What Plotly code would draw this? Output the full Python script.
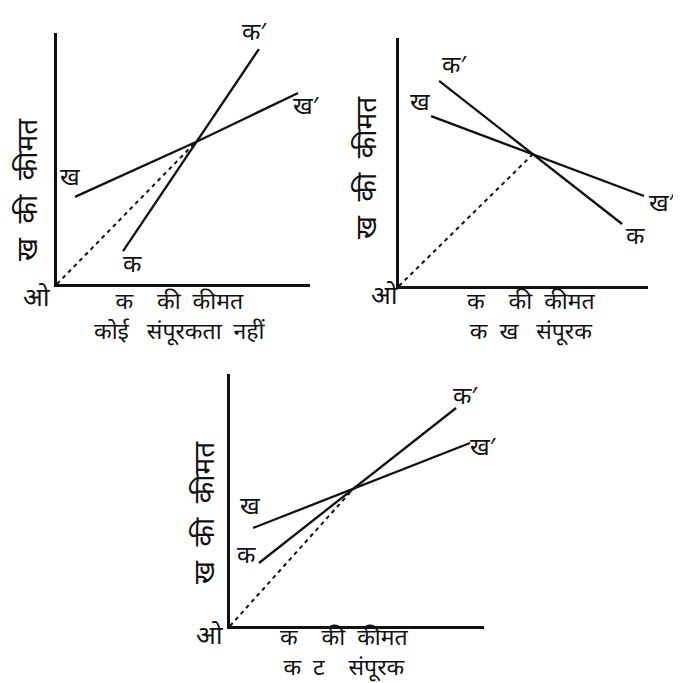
import plotly.graph_objects as go

W, H = 681, 683

# panel 1 - कोई संपूरकता नहीं (values in % of axis length)
P1_KHA_X = [7.1, 54.9, 95.3]
P1_KHA_Y = [34.7, 56.6, 76.1]
P1_KA_X = [26.1, 79.8]
P1_KA_Y = [13.1, 93.6]
P1_DASH_X = [0, 54.9]
P1_DASH_Y = [0, 56.6]

# panel 2 - क ख संपूरक
P2_KHA_X = [12.9, 98.4]
P2_KHA_Y = [68.5, 36.3]
P2_KA_X = [16.1, 89.6]
P2_KA_Y = [82.7, 25.0]
P2_DASH_X = [0, 53.8]
P2_DASH_Y = [0, 53.2]

# panel 3 - क ट संपूरक
P3_KHA_X = [9.1, 94.5]
P3_KHA_Y = [38.9, 72.6]
P3_KA_X = [11.4, 89.0]
P3_KA_Y = [25.0, 86.5]
P3_DASH_X = [0, 49.6]
P3_DASH_Y = [0, 55.6]

X_TITLE = "क    की  कीमत"
Y_TITLE = "ख  की  कीमत"
ORIGIN = "ओ"
SUBTITLES = ["कोई   संपूरकता  नहीं", "क  ख   संपूरक", "क  ट    संपूरक"]

FONT = "Noto Sans Devanagari, Lohit Devanagari, Mangal, Noto Sans, sans-serif"
INK = "#111111"


def px(x, y):
    return x / W, 1 - y / H


fig = go.Figure()

# axis boxes in pixels: (left, bottom, right, top)
boxes = [(49, 276, 302, 25), (391, 278, 640, 30), (222, 618, 476, 366)]
panels = [
    (P1_KHA_X, P1_KHA_Y, P1_KA_X, P1_KA_Y, P1_DASH_X, P1_DASH_Y),
    (P2_KHA_X, P2_KHA_Y, P2_KA_X, P2_KA_Y, P2_DASH_X, P2_DASH_Y),
    (P3_KHA_X, P3_KHA_Y, P3_KA_X, P3_KA_Y, P3_DASH_X, P3_DASH_Y),
]

# label offsets (xshift, yshift) for: kha start, ka start, kha end, ka end
offsets = [
    {"kha0": (-5, 18), "ka0": (9, -15), "kha1": (8, -15), "ka1": (-4, 15)},
    {"kha0": (-11, 12), "ka0": (15, 14), "kha1": (18, -9), "ka1": (13, -14)},
    {"kha0": (-3, 20), "ka0": (-12, 6), "kha1": (13, -6), "ka1": (9, 10)},
]

layout_axes = {}
for i, ((l, b, r, t), data, off) in enumerate(zip(boxes, panels, offsets)):
    n = "" if i == 0 else str(i + 1)
    xa, ya = "x" + n, "y" + n
    kha_x, kha_y, ka_x, ka_y, d_x, d_y = data

    fig.add_trace(go.Scatter(x=d_x, y=d_y, mode="lines", xaxis=xa, yaxis=ya,
                             line={"color": INK, "width": 2, "dash": "4px,4px"}))
    fig.add_trace(go.Scatter(x=kha_x, y=kha_y, mode="lines", xaxis=xa, yaxis=ya,
                             line={"color": INK, "width": 2.3}))
    fig.add_trace(go.Scatter(x=ka_x, y=ka_y, mode="lines", xaxis=xa, yaxis=ya,
                             line={"color": INK, "width": 2.3}))

    axis_common = {
        "range": [0, 100], "showgrid": False, "zeroline": False,
        "showticklabels": False, "ticks": "", "showline": True,
        "linecolor": INK, "linewidth": 2.5,
    }
    layout_axes["xaxis" + n] = {**axis_common, "domain": [l / W, r / W], "anchor": ya}
    layout_axes["yaxis" + n] = {**axis_common, "domain": [1 - b / H, 1 - t / H], "anchor": xa}

    if i == 1:
        names = ["ख", "क′", "ख′", "क"]
    else:
        names = ["ख", "क", "ख′", "क′"]
    labels = [
        (names[0], kha_x[0], kha_y[0], off["kha0"]),
        (names[1], ka_x[0], ka_y[0], off["ka0"]),
        (names[2], kha_x[-1], kha_y[-1], off["kha1"]),
        (names[3], ka_x[-1], ka_y[-1], off["ka1"]),
    ]
    for text, x, y, (dx, dy) in labels:
        fig.add_annotation(x=x, y=y, xref=xa, yref=ya, text=text, showarrow=False,
                           xshift=dx, yshift=dy, font={"size": 24, "color": INK})

# origin mark, x title + caption block, y title (pixel centres)
titles = [
    ((28, 292), (172, 310), (22, 182)),
    ((376, 290), (523, 310), (360, 160)),
    ((202, 630), (336, 646), (198, 505)),
]
for (o, xt, yt), caption in zip(titles, SUBTITLES):
    for pos, text, angle, size in [
        (o, ORIGIN, 0, 26),
        (xt, X_TITLE + "<br>" + caption, 0, 23),
        (yt, Y_TITLE, -90, 28),
    ]:
        x, y = px(*pos)
        fig.add_annotation(x=x, y=y, xref="paper", yref="paper", text=text,
                           showarrow=False, textangle=angle, xanchor="center",
                           yanchor="middle", font={"size": size, "color": INK})

fig.update_layout(
    width=W, height=H,
    margin={"l": 0, "r": 0, "t": 0, "b": 0},
    paper_bgcolor="white", plot_bgcolor="white",
    showlegend=False,
    font={"family": FONT, "color": INK},
    **layout_axes,
)

fig.write_html("out.html")
